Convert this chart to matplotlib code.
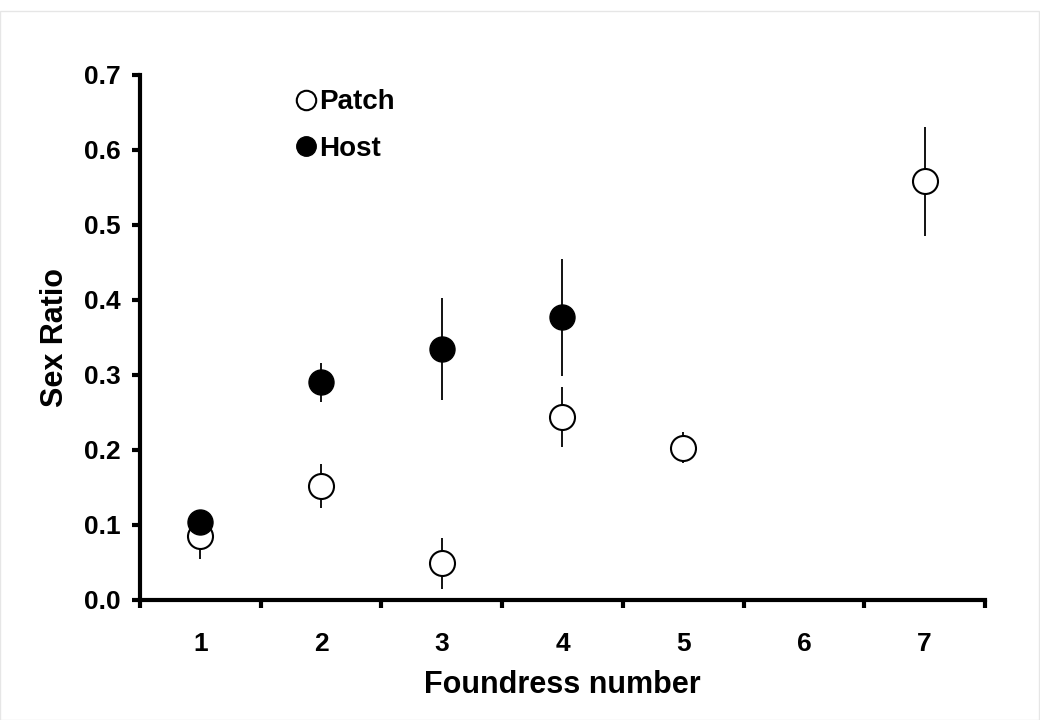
import numpy as np
import matplotlib
matplotlib.use('Agg')
import matplotlib.pyplot as plt
from matplotlib.lines import Line2D

plt.rcParams['font.family'] = ['Liberation Sans', 'DejaVu Sans']
plt.rcParams['font.weight'] = 'bold'

# Patch data (open circles)
patch_x = [1, 2, 3, 4, 5, 7]
patch_y = [0.085, 0.152, 0.049, 0.244, 0.203, 0.558]
patch_err = [0.030, 0.029, 0.034, 0.040, 0.021, 0.073]

# Host data (filled circles)
host_x = [1, 2, 3, 4]
host_y = [0.104, 0.290, 0.334, 0.377]
host_err = [0.016, 0.026, 0.068, 0.078]

x_ticklabels = ['1', '2', '3', '4', '5', '6', '7']
y_ticks = [0.0, 0.1, 0.2, 0.3, 0.4, 0.5, 0.6, 0.7]

fig = plt.figure(figsize=(10.4, 7.2), dpi=100)
ax = fig.add_axes([0.1346, 0.1667, 0.8125, 0.7293])

ax.errorbar(patch_x, patch_y, yerr=patch_err, fmt='o', color='black',
            ecolor='black', elinewidth=1.3, capsize=0, markersize=18,
            markerfacecolor='white', markeredgecolor='black',
            markeredgewidth=1.5, zorder=3)
ax.errorbar(host_x, host_y, yerr=host_err, fmt='o', color='black',
            ecolor='black', elinewidth=1.3, capsize=0, markersize=18,
            markerfacecolor='black', markeredgecolor='black', zorder=4)

ax.set_xlim(0.5, 7.5)
ax.set_ylim(0, 0.7)
ax.set_yticks(y_ticks)
ax.set_yticklabels([f'{v:.1f}' for v in y_ticks])
ax.set_xticks(np.arange(1, 8))
ax.set_xticklabels(x_ticklabels)
ax.set_xticks(np.arange(0.5, 8.0, 1.0), minor=True)
ax.tick_params(axis='x', which='major', length=0, pad=23, labelsize=19)
ax.tick_params(axis='x', which='minor', length=6, width=3, direction='out')
ax.tick_params(axis='y', which='major', length=6, width=3, direction='out',
               labelsize=19, pad=8)

for side in ['left', 'bottom']:
    ax.spines[side].set_linewidth(3)
ax.spines['top'].set_visible(False)
ax.spines['right'].set_visible(False)

ax.set_xlabel('Foundress number', fontsize=22, fontweight='bold', labelpad=10)
ax.set_ylabel('Sex Ratio', fontsize=22, fontweight='bold', labelpad=10)

handles = [
    Line2D([], [], linestyle='none', marker='o', markersize=14,
           markerfacecolor='white', markeredgecolor='black', markeredgewidth=1.5),
    Line2D([], [], linestyle='none', marker='o', markersize=14,
           markerfacecolor='black', markeredgecolor='black'),
]
ax.legend(handles, ['Patch', 'Host'], loc='upper left',
          bbox_to_anchor=(0.15, 1.02), frameon=False, fontsize=20,
          handletextpad=0.0, labelspacing=0.75, handlelength=1.0)

# faint border around the figure
fig.patches.append(plt.Rectangle((0.0, 0.0), 0.999, 0.985, transform=fig.transFigure,
                                 fill=False, edgecolor='#e6e6e6', linewidth=1))

fig.savefig('out.png', dpi=100)
